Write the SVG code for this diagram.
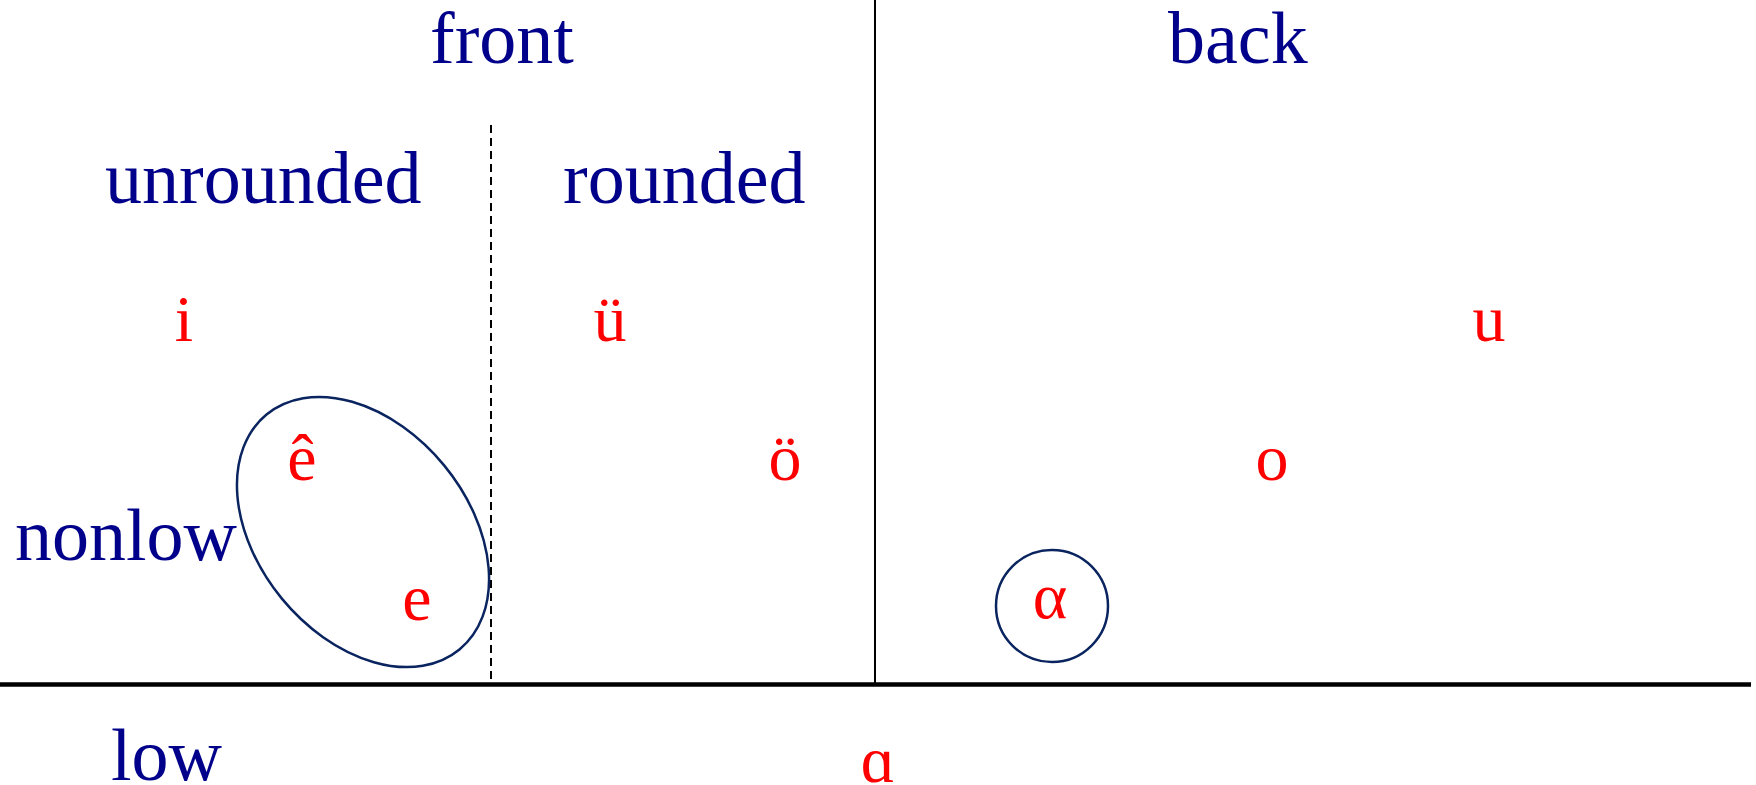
<svg xmlns="http://www.w3.org/2000/svg" width="1756" height="785" viewBox="0 0 1756 785">
<style>
.lbl{font-family:"Liberation Serif","Times New Roman",serif;font-size:74px;fill:#00008B}
.v{font-family:"Liberation Serif","Times New Roman",serif;font-size:66px;fill:#FF0000;text-anchor:middle}
.ring{fill:none;stroke:#0a2460;stroke-width:2.5}
</style>
<rect width="1756" height="785" fill="#ffffff"/>
<g id="connectors">
<line x1="0" y1="684.5" x2="1751" y2="684.5" stroke="#000" stroke-width="4.5"/>
<line x1="875" y1="0" x2="875" y2="684" stroke="#000" stroke-width="2"/>
<line x1="491" y1="125" x2="491" y2="684" stroke="#000" stroke-width="2" stroke-dasharray="8,5"/>
</g>
<g id="headers">
<text class="lbl" x="430" y="63">front</text>
<text class="lbl" x="1168" y="63">back</text>
<text class="lbl" x="105" y="203">unrounded</text>
<text class="lbl" x="563" y="203">rounded</text>
<text class="lbl" x="15" y="560">nonlow</text>
<text class="lbl" x="111" y="780">low</text>
</g>
<g id="nonlow-group">
<ellipse class="ring" cx="363" cy="532" rx="152" ry="105" transform="rotate(50.6 363 532)"/>
</g>
<g id="alpha-group">
<circle class="ring" cx="1052" cy="606" r="56"/>
</g>
<g id="vowels">
<text class="v" x="184" y="341">i</text>
<text class="v" x="610" y="341">ü</text>
<text class="v" x="1489" y="341">u</text>
<text class="v" x="302" y="480">ê</text>
<text class="v" x="785" y="480">ö</text>
<text class="v" x="1272" y="480">o</text>
<text class="v" x="417" y="620">e</text>
<text class="v" x="1050" y="618">α</text>
<text class="v" x="878" y="782">ɑ</text>
</g>
</svg>
